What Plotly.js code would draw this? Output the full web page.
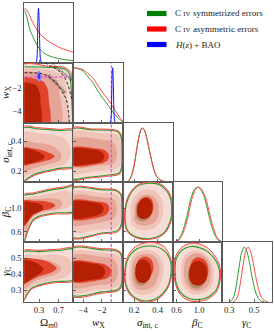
<!DOCTYPE html>
<html><head><meta charset="utf-8">
<script src="https://cdn.plot.ly/plotly-3.0.1.min.js"></script>
<style>html,body{margin:0;padding:0;background:#fff}#plot{width:274px;height:332px}</style>
</head><body><div id="plot"></div>
<script>
// ---------- 1D marginals ----------
const OM_GRID  = [0,0.05,0.1,0.15,0.2,0.3,0.4,0.5,0.6,0.7,0.8,0.9,1.0];
const OM_RED   = [1.0,0.97,0.88,0.78,0.69,0.55,0.46,0.39,0.34,0.29,0.25,0.22,0.19];
const OM_GREEN = [0.97,0.85,0.65,0.53,0.43,0.27,0.18,0.13,0.10,0.08,0.06,0.05,0.04];
const OM_BLUE_X = [0.2,0.24,0.26,0.27,0.28,0.29,0.30,0.31,0.32,0.33,0.35,0.4];
const OM_BLUE_Y = [0,0.01,0.1,0.45,0.9,1.0,0.85,0.5,0.2,0.06,0.01,0];

const WX_GRID  = [-5.05,-4.5,-4,-3.5,-3,-2.5,-2,-1.5,-1,-0.5,0,0.25];
const WX_RED   = [1.0,0.99,0.965,0.9,0.82,0.7,0.57,0.46,0.34,0.2,0.08,0.03];
const WX_GREEN = [1.0,0.98,0.94,0.84,0.74,0.6,0.47,0.36,0.24,0.13,0.05,0.02];
const WX_BLUE_X = [-1.4,-1.1,-1.0,-0.95,-0.9,-0.85,-0.8,-0.75,-0.7,-0.6,-0.4];
const WX_BLUE_Y = [0,0.02,0.15,0.55,0.92,1.0,0.85,0.45,0.15,0.02,0];

const SIG_GRID  = [0.12,0.14,0.16,0.18,0.2,0.215,0.23,0.245,0.26,0.273,0.29,0.31,0.33,0.35,0.37,0.39,0.42,0.45,0.5,0.53];
const SIG_RED   = [0,0.0,0.04,0.13,0.3,0.5,0.7,0.87,0.97,1.0,0.95,0.8,0.6,0.4,0.23,0.12,0.05,0.02,0.005,0.002];
const SIG_GREEN = [0,0.01,0.05,0.15,0.32,0.52,0.72,0.88,0.98,1.0,0.94,0.78,0.58,0.38,0.22,0.11,0.045,0.018,0.004,0.001];

const BETA_RED_X   = [0.58,0.65,0.72,0.8,0.87,0.93,0.98,1.03,1.1,1.15,1.2,1.25,1.3,1.35,1.4];
const BETA_RED_Y   = [0.0,0.04,0.17,0.45,0.78,0.95,1.0,0.98,0.85,0.67,0.45,0.26,0.12,0.04,0.01];
const BETA_GREEN_X = [0.56,0.63,0.7,0.78,0.85,0.91,0.96,1.01,1.08,1.13,1.18,1.23,1.28,1.33,1.38];
const BETA_GREEN_Y = [0.0,0.04,0.17,0.45,0.78,0.95,1.0,0.98,0.85,0.67,0.45,0.26,0.12,0.04,0.01];

const GAM_GREEN_X = [0.30,0.32,0.34,0.36,0.38,0.40,0.42,0.44,0.46,0.48,0.50,0.52,0.54,0.56,0.58];
const GAM_GREEN_Y = [0.005,0.03,0.12,0.35,0.65,0.9,1.0,0.93,0.75,0.5,0.28,0.13,0.05,0.015,0.003];
const GAM_RED_X   = [0.33,0.35,0.37,0.39,0.41,0.43,0.45,0.47,0.49,0.51,0.53,0.55,0.57,0.59,0.61];
const GAM_RED_Y   = [0.005,0.03,0.12,0.35,0.65,0.9,1.0,0.93,0.75,0.5,0.28,0.13,0.05,0.015,0.003];

const LCDM_W = -1;

// ---------- 2D contours (x, y) ----------
const OW_L1 = [[-0.05,0.0],[0.5,-0.05],[0.85,-0.2],[0.95,-0.6],[0.98,-1.5],[1.0,-3],[1.02,-5.3],[-0.05,-5.3]];
const OW_G1 = [[-0.05,-0.1],[0.5,-0.15],[0.82,-0.3],[0.92,-0.7],[0.95,-1.6],[0.97,-3],[0.99,-5.3]];
const OW_L2 = [[-0.05,-0.3],[0.4,-0.35],[0.65,-0.55],[0.8,-1.0],[0.86,-2],[0.88,-3.5],[0.9,-5.3],[-0.05,-5.3]];
const OW_L3 = [[-0.05,-0.6],[0.3,-0.65],[0.55,-0.9],[0.68,-1.5],[0.72,-2.5],[0.74,-5.3],[-0.05,-5.3]];
const OW_L4 = [[-0.05,-1.1],[0.2,-1.15],[0.38,-1.4],[0.47,-2.0],[0.5,-3],[0.5,-5.3],[-0.05,-5.3]];
const OW_L5 = [[-0.05,-1.5],[0.12,-1.55],[0.25,-1.8],[0.31,-2.3],[0.33,-3.2],[0.33,-5.3],[-0.05,-5.3]];
const OW_B1 = [[0.30,-0.45],[0.34,-0.7],[0.35,-1.0],[0.33,-1.3],[0.30,-1.42],[0.26,-1.2],[0.255,-0.9],[0.27,-0.6]];
const OW_B2 = [[0.30,-0.7],[0.32,-0.85],[0.325,-1.0],[0.31,-1.15],[0.295,-1.2],[0.28,-1.05],[0.28,-0.85]];
const OW_DEC = [[0.42,0.3],[0.52,0.0],[0.63,-0.24],[0.74,-0.6],[0.83,-1.11],[0.9,-1.8],[0.93,-2.3],[0.97,-2.9],[1.0,-3.3]];
const OW_ACC = [[0,-0.62],[0.2,-0.64],[0.33,-0.68],[0.45,-0.85],[0.53,-1.11],[0.65,-1.5],[0.73,-2.0],[0.8,-2.5],[0.86,-3.0],[0.9,-4.0],[0.92,-5.1]];

const OS_L1 = [[-0.05,0.49],[0.3,0.488],[0.7,0.478],[1.05,0.47],[1.05,0.232],[0.7,0.21],[0.4,0.19],[0.2,0.17],[0.05,0.14],[-0.05,0.12]];
const OS_G1 = [[-0.05,0.482],[0.3,0.48],[0.7,0.47],[1.05,0.462],[1.05,0.24],[0.7,0.218],[0.4,0.198],[0.2,0.178],[0.05,0.148],[-0.05,0.128]];
const OS_L2 = [[-0.05,0.455],[0.3,0.452],[0.6,0.44],[0.85,0.41],[0.95,0.33],[0.85,0.25],[0.6,0.225],[0.3,0.2],[0.1,0.175],[-0.05,0.155]];
const OS_L3 = [[-0.05,0.39],[0.3,0.385],[0.55,0.37],[0.72,0.33],[0.76,0.30],[0.72,0.27],[0.5,0.245],[0.25,0.225],[-0.05,0.2]];
const OS_L4 = [[-0.05,0.355],[0.2,0.35],[0.4,0.335],[0.55,0.315],[0.62,0.298],[0.55,0.28],[0.4,0.265],[0.2,0.25],[-0.05,0.24]];
const OS_L5 = [[-0.05,0.348],[0.15,0.343],[0.3,0.325],[0.4,0.305],[0.42,0.295],[0.38,0.28],[0.25,0.262],[0.1,0.25],[-0.05,0.245]];

const OB_L1 = [[-0.05,1.22],[0.2,1.27],[0.5,1.33],[0.8,1.37],[1.05,1.40],[1.05,0.95],[0.6,0.9],[0.35,0.86],[0.2,0.8],[0.12,0.7],[0.05,0.55],[0.0,0.42],[-0.05,0.35]];
const OB_G1 = [[-0.05,1.2],[0.2,1.25],[0.5,1.31],[0.8,1.35],[1.05,1.38],[1.05,0.97],[0.6,0.92],[0.35,0.88],[0.2,0.82],[0.12,0.72],[0.05,0.57],[0.0,0.44],[-0.05,0.37]];
const OB_L2 = [[-0.05,1.16],[0.3,1.22],[0.6,1.27],[0.9,1.30],[1.0,1.2],[0.95,1.05],[0.7,0.97],[0.4,0.92],[0.2,0.85],[0.1,0.72],[0.03,0.55],[-0.05,0.45]];
const OB_L3 = [[-0.05,1.12],[0.3,1.16],[0.55,1.18],[0.72,1.15],[0.78,1.08],[0.7,1.0],[0.45,0.95],[0.25,0.9],[0.12,0.8],[0.05,0.65],[-0.05,0.55]];
const OB_L4 = [[-0.05,1.12],[0.2,1.13],[0.45,1.12],[0.6,1.08],[0.63,1.05],[0.55,1.0],[0.35,0.96],[0.2,0.9],[0.1,0.8],[-0.05,0.66]];
const OB_L5 = [[-0.05,1.11],[0.15,1.105],[0.3,1.08],[0.38,1.03],[0.37,0.97],[0.28,0.93],[0.15,0.88],[0.07,0.78],[-0.05,0.68]];

const OG_L1 = [[-0.05,0.54],[0.3,0.548],[0.7,0.555],[1.05,0.56],[1.05,0.365],[0.6,0.345],[0.3,0.325],[0.15,0.305],[0.05,0.265],[0.0,0.235],[-0.05,0.22]];
const OG_G1 = [[-0.05,0.533],[0.3,0.54],[0.7,0.547],[1.05,0.552],[1.05,0.372],[0.6,0.352],[0.3,0.332],[0.15,0.312],[0.05,0.272],[0.0,0.242],[-0.05,0.227]];
const OG_L2 = [[-0.05,0.51],[0.3,0.515],[0.6,0.52],[0.9,0.5],[0.97,0.45],[0.9,0.39],[0.6,0.36],[0.3,0.34],[0.12,0.31],[0.03,0.27],[-0.05,0.25]];
const OG_L3 = [[-0.05,0.485],[0.3,0.49],[0.55,0.48],[0.72,0.45],[0.75,0.43],[0.68,0.405],[0.45,0.38],[0.25,0.36],[0.1,0.33],[-0.05,0.3]];
const OG_L4 = [[-0.05,0.49],[0.2,0.495],[0.45,0.48],[0.6,0.455],[0.66,0.435],[0.55,0.41],[0.35,0.39],[0.2,0.37],[0.08,0.35],[-0.05,0.33]];
const OG_L5 = [[-0.05,0.485],[0.15,0.48],[0.3,0.46],[0.39,0.43],[0.35,0.41],[0.22,0.385],[0.1,0.36],[-0.05,0.34]];

const WS_L1 = [[-5.3,0.482],[-3,0.48],[-1,0.477],[-0.2,0.465],[0.1,0.43],[0.2,0.33],[0.15,0.22],[-0.1,0.18],[-1.5,0.165],[-3.5,0.152],[-5.3,0.145]];
const WS_G1 = [[-5.3,0.476],[-3,0.474],[-1,0.471],[-0.25,0.46],[0.05,0.425],[0.14,0.33],[0.1,0.23],[-0.15,0.188],[-1.5,0.172],[-3.5,0.159],[-5.3,0.152]];
const WS_L2 = [[-5.3,0.455],[-2,0.452],[-0.5,0.445],[-0.1,0.42],[0.05,0.33],[-0.05,0.24],[-0.5,0.215],[-2.5,0.2],[-5.3,0.19]];
const WS_L3 = [[-5.3,0.41],[-2,0.408],[-0.8,0.39],[-0.45,0.34],[-0.45,0.29],[-0.8,0.25],[-2.5,0.235],[-5.3,0.23]];
const WS_L4 = [[-5.3,0.352],[-2.5,0.35],[-1.6,0.335],[-1.25,0.3],[-1.5,0.265],[-2.5,0.245],[-5.3,0.24]];
const WS_L5 = [[-5.3,0.345],[-3,0.343],[-2.1,0.33],[-1.75,0.3],[-2.0,0.265],[-3,0.25],[-5.3,0.245]];

const WB_L1 = [[-5.3,1.34],[-2,1.335],[-0.5,1.32],[0.05,1.25],[0.2,1.0],[0.1,0.7],[-0.3,0.6],[-2,0.56],[-5.3,0.50]];
const WB_G1 = [[-5.3,1.325],[-2,1.32],[-0.5,1.305],[0.0,1.24],[0.14,1.0],[0.05,0.72],[-0.3,0.62],[-2,0.575],[-5.3,0.515]];
const WB_L2 = [[-5.3,1.27],[-2,1.265],[-0.5,1.25],[-0.05,1.17],[0.08,0.98],[-0.05,0.78],[-0.5,0.68],[-2.5,0.63],[-5.3,0.6]];
const WB_L3 = [[-5.3,1.2],[-2,1.19],[-0.8,1.16],[-0.45,1.05],[-0.45,0.92],[-0.8,0.82],[-2.5,0.75],[-5.3,0.72]];
const WB_L4 = [[-5.3,1.13],[-2.5,1.12],[-1.5,1.09],[-1.2,1.0],[-1.5,0.9],[-2.5,0.84],[-5.3,0.82]];
const WB_L5 = [[-5.3,1.11],[-3,1.105],[-2.1,1.07],[-1.8,1.0],[-2.1,0.91],[-3,0.86],[-5.3,0.84]];

const WG_L1 = [[-5.3,0.56],[-2,0.558],[-0.5,0.552],[0.05,0.53],[0.2,0.43],[0.1,0.32],[-0.3,0.295],[-2,0.28],[-5.3,0.265]];
const WG_G1 = [[-5.3,0.553],[-2,0.551],[-0.5,0.545],[0.0,0.525],[0.14,0.43],[0.05,0.33],[-0.3,0.303],[-2,0.288],[-5.3,0.273]];
const WG_L2 = [[-5.3,0.535],[-2,0.533],[-0.5,0.525],[-0.05,0.5],[0.07,0.42],[-0.05,0.34],[-0.5,0.315],[-2.5,0.3],[-5.3,0.29]];
const WG_L3 = [[-5.3,0.51],[-2,0.508],[-0.8,0.495],[-0.35,0.45],[-0.4,0.38],[-0.8,0.345],[-2.5,0.33],[-5.3,0.32]];
const WG_L4 = [[-5.3,0.475],[-2.5,0.47],[-1.5,0.455],[-0.95,0.42],[-1.3,0.38],[-2.5,0.36],[-5.3,0.355]];
const WG_L5 = [[-5.3,0.468],[-3,0.465],[-2.0,0.45],[-1.65,0.42],[-1.9,0.38],[-3,0.365],[-5.3,0.36]];

const SB_R1 = [[0.118,0.83],[0.145,1.19],[0.22,1.395],[0.321,1.45],[0.425,1.42],[0.5,1.27],[0.528,1.03],[0.512,0.76],[0.452,0.555],[0.35,0.47],[0.232,0.482],[0.145,0.59]];
const SB_G1 = [[0.122,0.83],[0.15,1.175],[0.222,1.375],[0.321,1.434],[0.42,1.405],[0.491,1.26],[0.52,1.03],[0.506,0.77],[0.449,0.57],[0.35,0.484],[0.236,0.495],[0.15,0.6]];
const SB_L2 = [[0.17,0.85],[0.18,1.1],[0.23,1.27],[0.3,1.33],[0.38,1.3],[0.43,1.18],[0.45,1.0],[0.43,0.8],[0.38,0.67],[0.3,0.62],[0.22,0.65],[0.18,0.72]];
const SB_L3 = [[0.2,0.88],[0.21,1.08],[0.25,1.2],[0.3,1.24],[0.36,1.21],[0.4,1.1],[0.41,0.96],[0.39,0.8],[0.34,0.72],[0.28,0.7],[0.23,0.73],[0.2,0.8]];
const SB_BR = [[0.215,0.9],[0.22,1.05],[0.25,1.13],[0.3,1.16],[0.33,1.12],[0.35,1.0],[0.34,0.87],[0.31,0.8],[0.26,0.78],[0.225,0.82]];
const SB_L4 = [[0.23,0.93],[0.235,1.08],[0.265,1.17],[0.31,1.2],[0.35,1.15],[0.365,1.03],[0.35,0.91],[0.315,0.85],[0.27,0.84],[0.24,0.87]];
const SB_L5 = [[0.225,0.92],[0.23,1.06],[0.26,1.15],[0.3,1.18],[0.34,1.13],[0.355,1.02],[0.345,0.9],[0.31,0.83],[0.265,0.82],[0.235,0.86]];

const SG_R1 = [[0.118,0.40],[0.145,0.51],[0.22,0.575],[0.335,0.598],[0.45,0.575],[0.51,0.5],[0.522,0.41],[0.485,0.31],[0.395,0.24],[0.278,0.225],[0.175,0.262],[0.126,0.33]];
const SG_G1 = [[0.122,0.394],[0.15,0.498],[0.222,0.556],[0.335,0.575],[0.449,0.55],[0.506,0.488],[0.514,0.404],[0.478,0.31],[0.392,0.248],[0.278,0.233],[0.179,0.269],[0.131,0.331]];
const SG_L2 = [[0.16,0.4],[0.18,0.5],[0.24,0.54],[0.33,0.55],[0.41,0.52],[0.45,0.45],[0.44,0.37],[0.39,0.3],[0.3,0.27],[0.22,0.28],[0.17,0.33]];
const SG_L3 = [[0.18,0.41],[0.2,0.49],[0.25,0.52],[0.33,0.525],[0.39,0.5],[0.415,0.44],[0.4,0.37],[0.36,0.32],[0.29,0.3],[0.22,0.31],[0.19,0.35]];
const SG_BR = [[0.2,0.4],[0.215,0.455],[0.26,0.475],[0.31,0.46],[0.33,0.41],[0.32,0.36],[0.28,0.33],[0.23,0.335],[0.205,0.365]];
const SG_L4 = [[0.22,0.44],[0.24,0.49],[0.29,0.51],[0.34,0.495],[0.365,0.45],[0.35,0.4],[0.3,0.37],[0.25,0.375],[0.225,0.4]];
const SG_L5 = [[0.21,0.42],[0.225,0.47],[0.27,0.49],[0.32,0.475],[0.345,0.43],[0.335,0.375],[0.29,0.345],[0.24,0.35],[0.215,0.38]];

const BG_R1 = [[0.56,0.42],[0.585,0.51],[0.69,0.565],[0.85,0.592],[1.0,0.588],[1.16,0.56],[1.31,0.495],[1.375,0.425],[1.365,0.35],[1.3,0.285],[1.13,0.24],[0.95,0.228],[0.79,0.238],[0.65,0.28],[0.575,0.35]];
const BG_G1 = [[0.575,0.42],[0.6,0.5],[0.7,0.55],[0.85,0.572],[1.0,0.565],[1.15,0.54],[1.3,0.48],[1.36,0.42],[1.35,0.35],[1.28,0.29],[1.12,0.25],[0.95,0.24],[0.8,0.25],[0.66,0.29],[0.59,0.35]];
const BG_L2 = [[0.68,0.42],[0.72,0.5],[0.85,0.54],[1.0,0.545],[1.15,0.51],[1.25,0.44],[1.25,0.36],[1.17,0.3],[1.0,0.275],[0.85,0.28],[0.72,0.33]];
const BG_L3 = [[0.73,0.42],[0.77,0.49],[0.88,0.525],[1.0,0.528],[1.13,0.5],[1.2,0.44],[1.2,0.37],[1.13,0.315],[1.0,0.295],[0.87,0.3],[0.76,0.35]];
const BG_BR = [[0.8,0.39],[0.83,0.44],[0.92,0.465],[1.04,0.455],[1.11,0.4],[1.09,0.34],[0.99,0.31],[0.88,0.315],[0.82,0.345]];
const BG_L4 = [[0.84,0.43],[0.88,0.485],[0.98,0.505],[1.09,0.49],[1.16,0.44],[1.14,0.38],[1.05,0.35],[0.93,0.355],[0.86,0.385]];
const BG_L5 = [[0.82,0.4],[0.85,0.455],[0.95,0.48],[1.07,0.47],[1.14,0.42],[1.12,0.36],[1.02,0.33],[0.9,0.335],[0.84,0.36]];

// ---------- tick labels ----------
const XT=[[0.3,0.7],[-4,-2],[0.2,0.4],[0.6,1.0],[0.3,0.5]];
const XT_TEXT=[['0.3','0.7'],['−4','−2'],['0.2','0.4'],['0.6','1.0'],['0.3','0.5']];
const YT=[null,[-4,-2],[0.2,0.4],[0.6,1.0],[0.3,0.4,0.5]];
const YT_TEXT=[null,['−4','−2'],['0.2','0.4'],['0.6','1.0'],['0.3','0.4','0.5']];

// ---------- layout geometry ----------
const W=274,H=332;
const COLS=[[24.3,73.3],[73.3,123],[123,172.5],[172.5,221.8],[221.8,271.5]];
const ROWS=[[3.3,62.8],[62.8,123],[123,182.3],[182.3,242],[242,302]];
const XR=[[0,1],[-5.05,0.25],[0.105,0.527],[0.53,1.40],[0.24,0.64]];
const YR=[null,[-5.05,0.25],[0.125,0.52],[0.42,1.45],[0.225,0.60]];
const FONT='Liberation Serif';
const C_L1='#f6dcd5',C_L2='#efc5ba',C_L3='#e5a496',C_BR='#b88a6c',C_L4='#e2432d',C_L5='#b42102';
const C_GREEN='#2a9a2a',C_RED='#ff4646',C_BLUE='#1010ff';

const layout={width:W,height:H,margin:{l:0,r:0,t:0,b:0},paper_bgcolor:'#fff',plot_bgcolor:'rgba(0,0,0,0)',
  showlegend:false,annotations:[],shapes:[]};
const traces=[];
const ID={};
let n=0;
for(let r=0;r<5;r++)for(let c=0;c<=r;c++){
  n++; ID[r+','+c]=n;
  const sfx=n===1?'':n;
  const common={showline:true,linecolor:'#5a5a5a',linewidth:1,mirror:true,showgrid:false,zeroline:false,
    fixedrange:true,ticks:'inside',ticklen:3,tickwidth:0.8,tickcolor:'#444',
    tickfont:{family:FONT,size:8.5,color:'#222'}};
  layout['xaxis'+sfx]=Object.assign({},common,{domain:[COLS[c][0]/W,COLS[c][1]/W],range:XR[c],
    tickvals:XT[c],ticktext:XT_TEXT[c],showticklabels:r===4,anchor:'y'+sfx});
  if(r===c){
    layout['yaxis'+sfx]=Object.assign({},common,{domain:[1-ROWS[r][1]/H,1-ROWS[r][0]/H],range:[0,1.09],
      ticks:'',showticklabels:false,anchor:'x'+sfx});
  } else {
    layout['yaxis'+sfx]=Object.assign({},common,{domain:[1-ROWS[r][1]/H,1-ROWS[r][0]/H],range:YR[r],
      tickvals:YT[r],ticktext:YT_TEXT[r],showticklabels:c===0,anchor:'x'+sfx});
  }
}
function ax(r,c){const k=ID[r+','+c];return {xaxis:'x'+(k===1?'':k),yaxis:'y'+(k===1?'':k)};}
function fillPoly(r,c,pts,color){
  const p=pts.concat([pts[0]]);
  traces.push(Object.assign({type:'scatter',mode:'lines',x:p.map(q=>q[0]),y:p.map(q=>q[1]),
    fill:'toself',fillcolor:color,line:{width:0,shape:'spline',smoothing:1},hoverinfo:'skip'},ax(r,c)));
}
function linePts(r,c,pts,color,width,closed,dash){
  const p=closed?pts.concat([pts[0]]):pts;
  traces.push(Object.assign({type:'scatter',mode:'lines',x:p.map(q=>q[0]),y:p.map(q=>q[1]),
    line:{width:width,color:color,shape:'spline',smoothing:1,dash:dash||'solid'},hoverinfo:'skip'},ax(r,c)));
}
function curve(r,c,xs,ys,color,width){
  traces.push(Object.assign({type:'scatter',mode:'lines',x:xs,y:ys,
    line:{width:width||1,color:color,shape:'spline',smoothing:0.8},hoverinfo:'skip'},ax(r,c)));
}
function panel(r,c,L1,G1,L2,L3,BR,L4,L5,closed){
  fillPoly(r,c,L1,C_L1); fillPoly(r,c,L2,C_L2); fillPoly(r,c,L3,C_L3);
  if(BR) fillPoly(r,c,BR,C_BR);
  fillPoly(r,c,L4,C_L4); fillPoly(r,c,L5,C_L5);
  linePts(r,c,G1,C_GREEN,1.1,closed);
  linePts(r,c,L1,C_RED,1,true);
}
panel(1,0,OW_L1,OW_G1,OW_L2,OW_L3,null,OW_L4,OW_L5,false);
fillPoly(1,0,OW_B1,'#8c8cff'); fillPoly(1,0,OW_B2,'#2020ff');
linePts(1,0,OW_DEC,'#111',0.9,false,'3px,2px');
linePts(1,0,OW_ACC,'#111',0.9,false,'3px,2px');
panel(2,0,OS_L1,OS_G1,OS_L2,OS_L3,null,OS_L4,OS_L5,true);
panel(3,0,OB_L1,OB_G1,OB_L2,OB_L3,null,OB_L4,OB_L5,true);
panel(4,0,OG_L1,OG_G1,OG_L2,OG_L3,null,OG_L4,OG_L5,true);
panel(2,1,WS_L1,WS_G1,WS_L2,WS_L3,null,WS_L4,WS_L5,true);
panel(3,1,WB_L1,WB_G1,WB_L2,WB_L3,null,WB_L4,WB_L5,true);
panel(4,1,WG_L1,WG_G1,WG_L2,WG_L3,null,WG_L4,WG_L5,true);
panel(3,2,SB_R1,SB_G1,SB_L2,SB_L3,SB_BR,SB_L4,SB_L5,true);
panel(4,2,SG_R1,SG_G1,SG_L2,SG_L3,SG_BR,SG_L4,SG_L5,true);
panel(4,3,BG_R1,BG_G1,BG_L2,BG_L3,BG_BR,BG_L4,BG_L5,true);

const MAG='#e040e0';
function mline(r,c,xs,ys){traces.push(Object.assign({type:'scatter',mode:'lines',x:xs,y:ys,
  line:{color:MAG,width:1.1,dash:'3px,2px'},hoverinfo:'skip'},ax(r,c)));}
mline(1,0,[-0.1,1.1],[LCDM_W,LCDM_W]);
for(let r=1;r<5;r++){const yr=r===1?[-0.1,1.2]:[YR[r][0]-1,YR[r][1]+1]; mline(r,1,[LCDM_W,LCDM_W],yr);}

curve(0,0,OM_GRID,OM_GREEN,C_GREEN,1); curve(0,0,OM_GRID,OM_RED,C_RED,1);
curve(0,0,OM_BLUE_X,OM_BLUE_Y,C_BLUE,1);
curve(1,1,WX_GRID,WX_GREEN,C_GREEN,1); curve(1,1,WX_GRID,WX_RED,C_RED,1);
curve(1,1,WX_BLUE_X,WX_BLUE_Y,C_BLUE,1);
curve(2,2,SIG_GRID,SIG_GREEN,C_GREEN,1); curve(2,2,SIG_GRID,SIG_RED,C_RED,1);
curve(3,3,BETA_GREEN_X,BETA_GREEN_Y,C_GREEN,1); curve(3,3,BETA_RED_X,BETA_RED_Y,C_RED,1);
curve(4,4,GAM_GREEN_X,GAM_GREEN_Y,C_GREEN,1); curve(4,4,GAM_RED_X,GAM_RED_Y,C_RED,1);

const XTITLES=['Ω<sub><i>m</i>0</sub>','<i>w</i><sub>X</sub>','<i>σ</i><sub>int, c</sub>','<i>β</i><sub>C</sub>','<i>γ</i><sub>C</sub>'];
const YTITLES=[null,'<i>w</i><sub>X</sub>','<i>σ</i><sub>int, c</sub>','<i>β</i><sub>C</sub>','<i>γ</i><sub>C</sub>'];
for(let c=0;c<5;c++) layout.annotations.push({xref:'paper',yref:'paper',x:(COLS[c][0]+COLS[c][1])/2/W,y:1-323/H,
  text:XTITLES[c],showarrow:false,font:{family:FONT,size:11,color:'#111'},xanchor:'center',yanchor:'middle'});
for(let r=1;r<5;r++) layout.annotations.push({xref:'paper',yref:'paper',x:6/W,y:1-(ROWS[r][0]+ROWS[r][1])/2/H,
  text:YTITLES[r],showarrow:false,textangle:-90,font:{family:FONT,size:11,color:'#111'},xanchor:'center',yanchor:'middle'});

layout.annotations.push({xref:'x2',yref:'y2',x:0.76,y:-0.55,text:'Decelerating',showarrow:false,textangle:38,
  font:{family:FONT,size:5,color:'#333'}});
layout.annotations.push({xref:'x2',yref:'y2',x:0.66,y:-1.55,text:'Accelerating',showarrow:false,textangle:45,
  font:{family:FONT,size:5,color:'#333'}});

const LEG=[['C <span style="font-size:7px">IV</span> symmetrized errors','#008000'],
           ['C <span style="font-size:7px">IV</span> asymmetric errors','#ff0000'],
           ['<i>H</i>(<i>z</i>) + BAO','#0000ff']];
const LEG_Y=[13.5,29,44.5];
LEG.forEach((e,i)=>{
  layout.shapes.push({type:'rect',xref:'paper',yref:'paper',x0:147/W,x1:166.5/W,y0:1-(LEG_Y[i]+2.6)/H,y1:1-(LEG_Y[i]-2.6)/H,
    fillcolor:e[1],line:{width:0}});
  layout.annotations.push({xref:'paper',yref:'paper',x:173/W,y:1-LEG_Y[i]/H,text:e[0],showarrow:false,
    xanchor:'left',yanchor:'middle',font:{family:FONT,size:9,color:'#222'}});
});

Plotly.newPlot('plot',traces,layout,{staticPlot:true,displayModeBar:false});
</script></body></html>
